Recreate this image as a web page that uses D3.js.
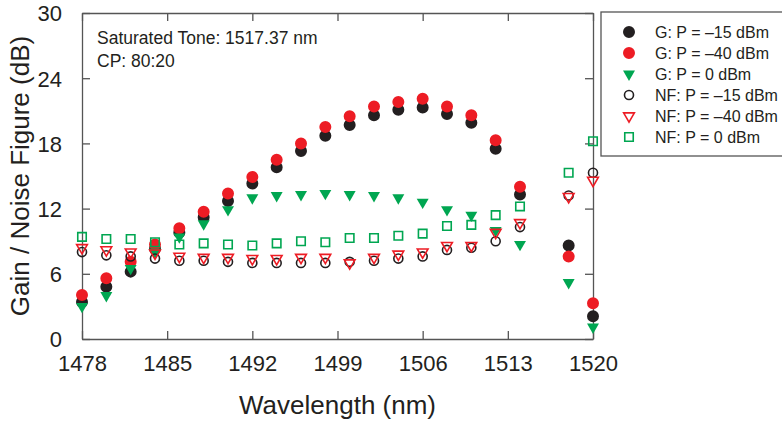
<!DOCTYPE html>
<html>
<head>
<meta charset="utf-8">
<script src="https://cdn.jsdelivr.net/npm/d3@7"></script>
<style>
  body { margin: 0; background: #fff; }
  svg { display: block; font-family: Arial, "Liberation Sans", sans-serif; }
</style>
</head>
<body>
<div id="chart"></div>
<script>
// wavelengths (nm)
const wavelengths = [1478, 1480, 1482, 1484, 1486, 1488, 1490, 1492, 1494, 1496, 1498,
  1500, 1502, 1504, 1506, 1508, 1510, 1512, 1514, 1518, 1520];

// gain (dB)
const gainM15 = [3.4, 4.8, 6.2, 8.3, 9.8, 11.2, 12.7, 14.3, 15.8, 17.3, 18.7,
  19.7, 20.6, 21.1, 21.3, 20.7, 19.9, 17.5, 13.3, 8.6, 2.1];
const gainM40 = [4.05, 5.6, 7.1, 8.7, 10.2, 11.7, 13.4, 14.9, 16.5, 18.0, 19.5,
  20.5, 21.4, 21.8, 22.1, 21.4, 20.6, 18.3, 14.0, 7.6, 3.3];
const gain0 = [3.0, 4.0, 6.5, 8.0, 9.4, 10.6, 11.9, 13.0, 13.2, 13.3, 13.4,
  13.3, 13.2, 13.0, 12.6, 11.9, 11.4, 10.0, 8.7, 5.2, 1.1];

// noise figure (dB)
const nfM15 = [8.0, 7.7, 7.6, 7.4, 7.2, 7.2, 7.1, 7.0, 7.0, 7.0, 7.0,
  7.1, 7.2, 7.4, 7.6, 8.2, 8.4, 9.0, 10.3, 13.2, 15.3];
const nfM40 = [8.4, 8.2, 8.0, 7.9, 7.6, 7.5, 7.5, 7.4, 7.4, 7.5, 7.5,
  7.0, 7.5, 7.8, 8.0, 8.6, 8.6, 9.8, 10.7, 13.1, 14.6];
const nf0 = [9.4, 9.2, 9.2, 8.9, 8.7, 8.8, 8.7, 8.6, 8.8, 9.0, 8.9,
  9.3, 9.3, 9.5, 9.7, 10.4, 10.5, 11.4, 12.2, 15.3, 18.2];

const xTicks = [1478, 1485, 1492, 1499, 1506, 1513, 1520];
const yTicks = [0, 6, 12, 18, 24, 30];

const seriesLabels = ["G: P = \u201315 dBm", "G: P = \u201340 dBm", "G: P = 0 dBm",
  "NF: P = \u201315 dBm", "NF: P = \u201340 dBm", "NF: P = 0 dBm"];

const black = "#231f20", red = "#ed1c24", green = "#00a651", axisColor = "#555";

const width = 782, height = 422;
const margin = { left: 82, right: 189, top: 13, bottom: 83 };
const innerWidth = width - margin.left - margin.right;
const innerHeight = height - margin.top - margin.bottom;

const svg = d3.select("#chart").append("svg")
  .attr("width", width)
  .attr("height", height);

const xScale = d3.scaleLinear().domain([1478, 1520]).range([0, innerWidth]);
const yScale = d3.scaleLinear().domain([0, 30]).range([innerHeight, 0]);

const g = svg.append("g")
  .attr("transform", "translate(" + margin.left + "," + margin.top + ")");

// axes, ticks inward on all four sides
const tickLen = 8;
const bottomAxis = d3.axisBottom(xScale).tickValues(xTicks).tickFormat(d3.format("d"))
  .tickSizeInner(-tickLen).tickSizeOuter(0).tickPadding(16);
const topAxis = d3.axisTop(xScale).tickValues(xTicks).tickSizeInner(-tickLen).tickSizeOuter(0).tickFormat("");
const leftAxis = d3.axisLeft(yScale).tickValues(yTicks).tickSizeInner(-tickLen).tickSizeOuter(0).tickPadding(20);
const rightAxis = d3.axisRight(yScale).tickValues(yTicks).tickSizeInner(-tickLen).tickSizeOuter(0).tickFormat("");

const xAxisG = g.append("g").attr("transform", "translate(0," + innerHeight + ")").call(bottomAxis);
g.append("g").call(topAxis);
const yAxisG = g.append("g").call(leftAxis);
g.append("g").attr("transform", "translate(" + innerWidth + ",0)").call(rightAxis);

g.selectAll(".domain, .tick line").attr("stroke", axisColor).attr("stroke-width", 1.3);
xAxisG.selectAll("text").attr("font-size", 22).attr("fill", black);
yAxisG.selectAll("text").attr("font-size", 22).attr("fill", black).attr("dy", "0.36em");

// axis titles
svg.append("text")
  .attr("x", margin.left + innerWidth / 2)
  .attr("y", 414)
  .attr("text-anchor", "middle")
  .attr("font-size", 26)
  .attr("fill", black)
  .text("Wavelength (nm)");

svg.append("text")
  .attr("transform", "translate(29," + (margin.top + innerHeight / 2) + ") rotate(-90)")
  .attr("text-anchor", "middle")
  .attr("font-size", 26)
  .attr("fill", black)
  .text("Gain / Noise Figure (dB)");

// annotation
svg.append("text").attr("x", 97).attr("y", 44).attr("font-size", 17.5).attr("fill", black)
  .text("Saturated Tone: 1517.37 nm");
svg.append("text").attr("x", 97).attr("y", 67).attr("font-size", 17.5).attr("fill", black)
  .text("CP: 80:20");

// series definitions (draw order: filled first, open on top)
const series = [
  { values: gainM15, label: seriesLabels[0], type: d3.symbolCircle, size: 113, fill: black, stroke: "none", rot: 0 },
  { values: gainM40, label: seriesLabels[1], type: d3.symbolCircle, size: 113, fill: red, stroke: "none", rot: 0 },
  { values: gain0, label: seriesLabels[2], type: d3.symbolTriangle, size: 62, fill: green, stroke: "none", rot: 180 },
  { values: nfM15, label: seriesLabels[3], type: d3.symbolCircle, size: 64, fill: "none", stroke: black, rot: 0 },
  { values: nfM40, label: seriesLabels[4], type: d3.symbolTriangle, size: 50, fill: "none", stroke: red, rot: 180 },
  { values: nf0, label: seriesLabels[5], type: d3.symbolSquare, size: 72, fill: "none", stroke: green, rot: 0 }
];

series.forEach(function(s) {
  const path = d3.symbol().type(s.type).size(s.size)();
  g.append("g").selectAll("path")
    .data(wavelengths.map((w, i) => ({ w: w, v: s.values[i] })))
    .enter().append("path")
    .attr("d", path)
    .attr("transform", d => "translate(" + xScale(d.w) + "," + yScale(d.v) + ") rotate(" + s.rot + ")")
    .attr("fill", s.fill)
    .attr("stroke", s.stroke)
    .attr("stroke-width", 1.6);
});

// legend (box runs off the right edge, as in the original)
const legend = svg.append("g").attr("transform", "translate(601,12)");
legend.append("rect")
  .attr("x", 0).attr("y", 0).attr("width", 200).attr("height", 144)
  .attr("fill", "#fff").attr("stroke", axisColor).attr("stroke-width", 1.3);

const legendRows = legend.selectAll(".key")
  .data(series)
  .enter().append("g")
  .attr("class", "key")
  .attr("transform", (d, i) => "translate(28," + (20 + i * 21) + ")");

legendRows.append("path")
  .attr("d", d => d3.symbol().type(d.type).size(d.size)())
  .attr("transform", d => "rotate(" + d.rot + ")")
  .attr("fill", d => d.fill)
  .attr("stroke", d => d.stroke)
  .attr("stroke-width", 1.6);

legendRows.append("text")
  .attr("x", 26)
  .attr("y", 6)
  .attr("font-size", 16)
  .attr("fill", black)
  .text(d => d.label);
</script>
</body>
</html>
